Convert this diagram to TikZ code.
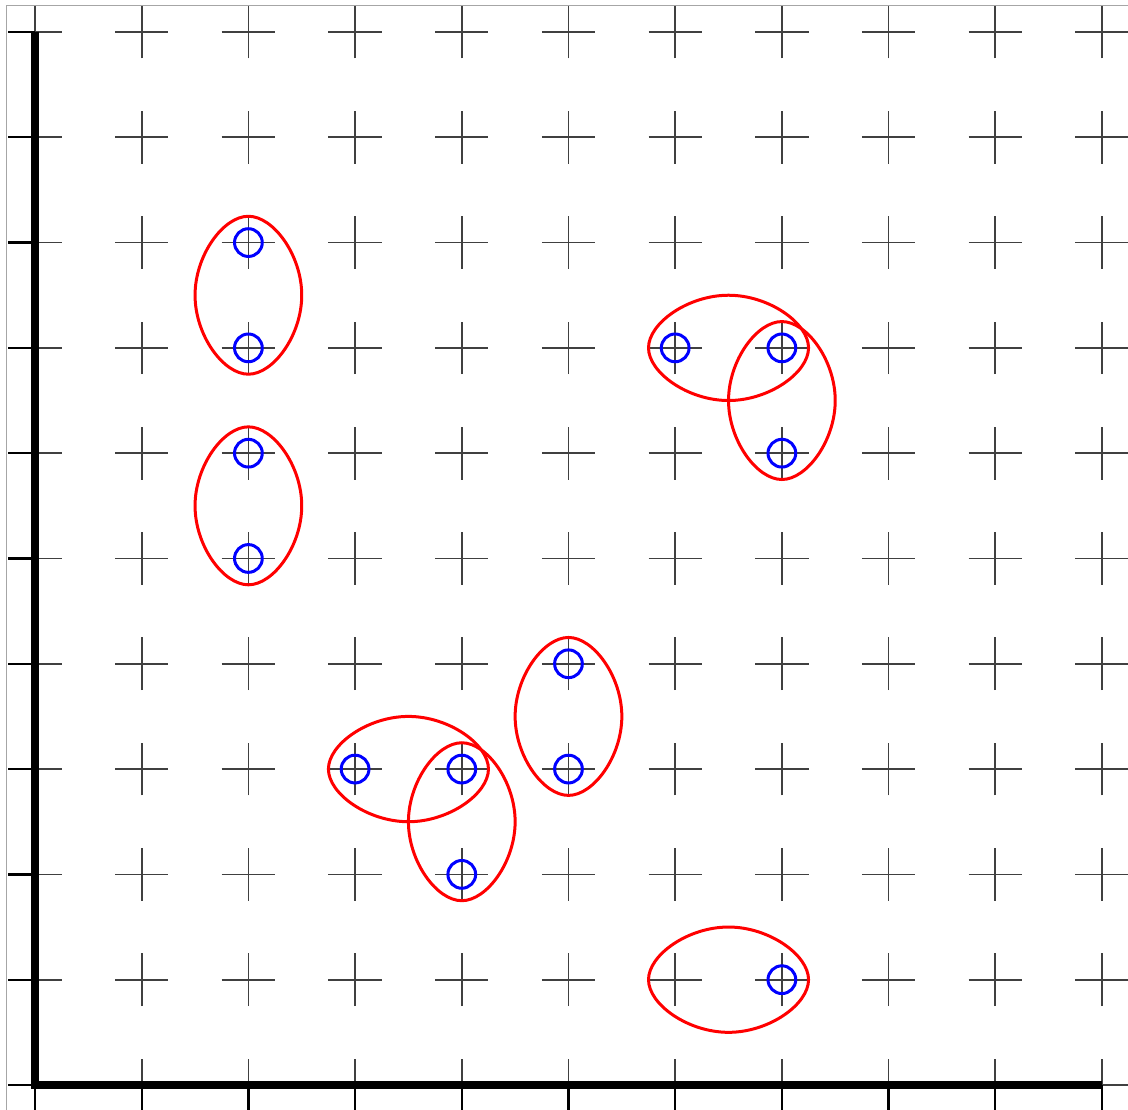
\documentclass[tikz,border=0pt]{standalone}
\begin{document}
\begin{tikzpicture}[x=1cm,y=0.9869cm,
  crossline/.style={draw=black!75,line width=0.45pt},
  axisline/.style={draw=black,line width=1.9pt},
  tickline/.style={draw=black,line width=0.6pt},
  lensline/.style={draw=red,line width=0.8pt},
  dotcircle/.style={draw=blue,line width=0.8pt},
  framestyle/.style={draw=black!35,line width=0.35pt},
  vlens/.pic={\path[lensline] (0,0.75) .. controls (0.235,0.75) and (0.5,0.38) .. (0.5,0)
     .. controls (0.5,-0.38) and (0.235,-0.75) .. (0,-0.75)
     .. controls (-0.235,-0.75) and (-0.5,-0.38) .. (-0.5,0)
     .. controls (-0.5,0.38) and (-0.235,0.75) .. cycle;},
  hlens/.pic={\path[lensline] (0.75,0) .. controls (0.75,0.235) and (0.38,0.5) .. (0,0.5)
     .. controls (-0.38,0.5) and (-0.75,0.235) .. (-0.75,0)
     .. controls (-0.75,-0.235) and (-0.38,-0.5) .. (0,-0.5)
     .. controls (0.38,-0.5) and (0.75,-0.235) .. cycle;}]
\useasboundingbox (-0.328,-0.237) rectangle (10.244,10.304);
\clip (-0.328,-0.237) rectangle (10.244,10.304);
% frame
\draw[framestyle] (-0.265,-0.3) -- (-0.265,10.25) -- (10.4,10.25);
% crosses
\foreach \i in {0,...,10}{
  \foreach \j in {0,...,10}{
    \draw[crossline] (\i-0.25,\j) -- (\i+0.25,\j) (\i,\j-0.25) -- (\i,\j+0.25);
  }
}
% axis ticks
\foreach \k in {0,...,10}{
  \draw[tickline] (-0.25,\k) -- (0,\k);
  \draw[tickline] (\k,-0.25) -- (\k,0);
}
% axes
\coordinate (O) at (0,0);
\coordinate (X) at (10,0);
\coordinate (Y) at (0,10);
\draw[axisline,line join=miter] (Y) -- (O) -- (X);
% lenses
\pic at (2,7.5) {vlens};
\pic at (2,5.5) {vlens};
\pic at (6.5,7) {hlens};
\pic at (7,6.5) {vlens};
\pic at (5,3.5) {vlens};
\pic at (3.5,3) {hlens};
\pic at (4,2.5) {vlens};
\pic at (6.5,1) {hlens};
% circles
\foreach \p/\q [count=\n] in {2/8,2/7,2/6,2/5,6/7,7/7,7/6,5/4,5/3,3/3,4/3,4/2,7/1}{
  \node[dotcircle,circle,minimum size=0.26cm,inner sep=0pt] (c\n) at (\p,\q) {};
}
\end{tikzpicture}
\end{document}
